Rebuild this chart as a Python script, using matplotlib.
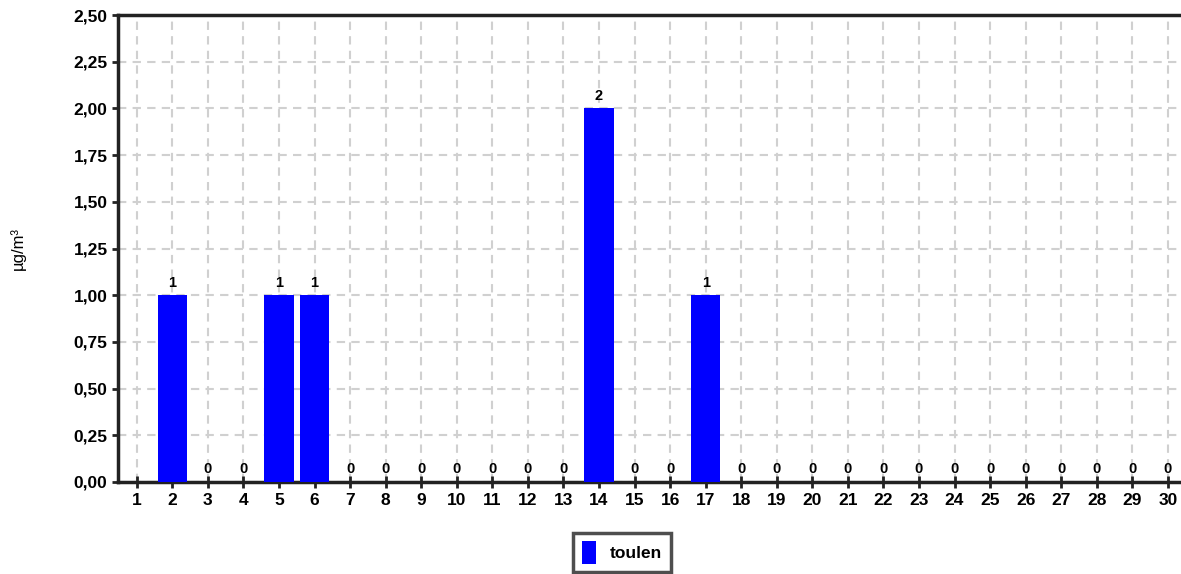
import numpy as np
import matplotlib.pyplot as plt
from matplotlib.ticker import FuncFormatter, MultipleLocator

# dane
days = list(range(1, 31))
toulen = [np.nan, 1, 0, 0, 1, 1, 0, 0, 0, 0, 0, 0, 0, 2, 0, 0, 1, 0, 0, 0,
          0, 0, 0, 0, 0, 0, 0, 0, 0, 0]

plt.rcParams['font.family'] = ['Liberation Sans', 'DejaVu Sans']

fig = plt.figure(figsize=(11.81, 5.74), dpi=100)
ax = fig.add_axes([118 / 1181, 1 - 482 / 574, 1 - 118 / 1181, (482 - 15) / 574])

vals = np.array(toulen, dtype=float)
ax.bar(days, np.nan_to_num(vals), width=0.82, color='#0000ff', zorder=3,
       label='toulen')

for d, v in zip(days, vals):
    if np.isnan(v):
        continue
    ax.text(d, v + 0.03, f"{int(v)}", ha='center', va='bottom',
            fontsize=10.5, fontweight='bold', zorder=4)

ax.set_xlim(0.47, 30.37)
ax.set_ylim(0, 2.5)
ax.set_xticks(days)
ax.yaxis.set_major_locator(MultipleLocator(0.25))
ax.yaxis.set_major_formatter(FuncFormatter(lambda y, p: f"{y:.2f}".replace('.', ',')))

for lab in ax.get_xticklabels() + ax.get_yticklabels():
    lab.set_fontweight('bold')
ax.tick_params(axis='both', labelsize=12.5, width=2, color='#222222')
ax.tick_params(axis='x', direction='inout', length=8, pad=4)
ax.tick_params(axis='y', direction='out', length=4)

ax.grid(True, color='#d0d0d0', linestyle=(0, (4, 3)), linewidth=1.5, zorder=0)

for s in ['left', 'bottom', 'top']:
    ax.spines[s].set_linewidth(2.5)
    ax.spines[s].set_color('#222222')
ax.spines['right'].set_visible(False)

ax.set_ylabel("µg/m³", fontsize=12, labelpad=34)

leg = fig.legend(loc='lower center', bbox_to_anchor=(622 / 1181, -0.012),
                 frameon=True, fancybox=False, edgecolor='#222222',
                 prop={'weight': 'bold', 'size': 12.5}, handlelength=0.8,
                 handleheight=1.6, borderpad=0.5)
leg.get_frame().set_linewidth(2.5)

fig.savefig("out.png", dpi=100)
